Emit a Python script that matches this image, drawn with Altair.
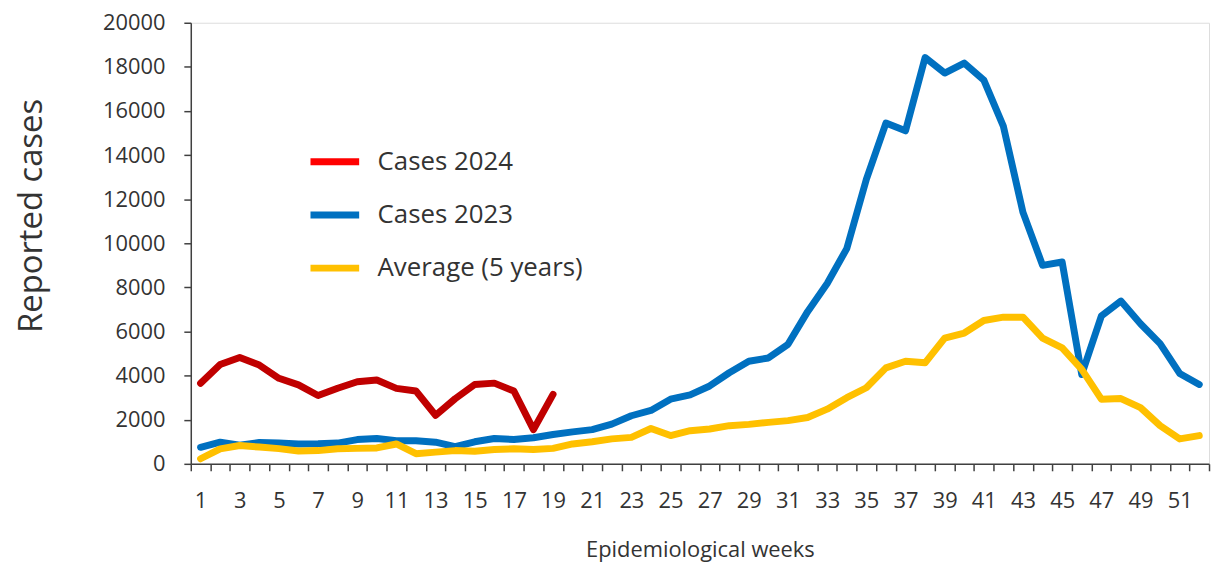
import altair as alt
import pandas as pd

weeks = list(range(1, 53))
cases_2024 = [3650, 4500, 4820, 4480, 3880, 3580, 3100, 3430, 3720, 3800, 3420, 3300,
              2200, 2950, 3600, 3660, 3300, 1550, 3150]
cases_2023 = [750, 980, 840, 970, 940, 900, 910, 940, 1100, 1150, 1050, 1050, 980, 780,
              1000, 1150, 1100, 1180, 1330, 1450, 1550, 1800, 2180, 2420, 2930, 3130,
              3530, 4130, 4650, 4800, 5420, 6900, 8180, 9760, 12900, 15450, 15100,
              18420, 17720, 18170, 17400, 15300, 11400, 9000, 9150, 4050, 6700, 7380,
              6350, 5450, 4100, 3600]
average_5y = [230, 680, 830, 760, 690, 580, 600, 680, 700, 720, 900, 460, 530, 600, 570,
              650, 680, 650, 700, 900, 1000, 1130, 1200, 1600, 1280, 1500, 1580, 1730,
              1790, 1880, 1960, 2100, 2480, 3000, 3450, 4350, 4650, 4580, 5700, 5930,
              6500, 6650, 6650, 5700, 5260, 4280, 2930, 2960, 2550, 1730, 1130, 1280]
series_names = ["Cases 2024", "Cases 2023", "Average (5 years)"]
line_colors = ["#C00000", "#0070C0", "#FFC000"]
legend_colors = ["#FF0000", "#0070C0", "#FFC000"]
y_ticks = list(range(0, 20001, 2000))

rows = []
for name, vals in zip(series_names, [cases_2024, cases_2023, average_5y]):
    for w, v in zip(weeks, vals):
        rows.append({"week": w, "cases": v, "series": name})
df = pd.DataFrame(rows)

W, H = 1025, 444
FONT = "Open Sans"
TXT = "#333333"
step = W / 52

x_enc = alt.X(
    "week:Q",
    scale=alt.Scale(domain=[0.5, 52.5], nice=False, zero=False),
    axis=alt.Axis(
        values=[i + 0.5 for i in range(53)],
        labelExpr="(datum.value % 2 == 0.5 && datum.value < 52) ? '' + (datum.value + 0.5) : ''",
        labelOffset=step / 2,
        labelOverlap=False,
        labelFlush=False,
        labelBound=False,
        labelFont=FONT, labelFontSize=22, labelColor=TXT, labelPadding=20,
        tickSize=7, tickColor="#404040", tickWidth=1.5,
        domainColor="#404040", domainWidth=1.5,
        grid=False,
        title="Epidemiological weeks",
        titleFont=FONT, titleFontSize=22, titleFontWeight="normal", titleColor=TXT,
        titleBaseline="middle", titleY=86,
    ),
)
y_enc = alt.Y(
    "cases:Q",
    scale=alt.Scale(domain=[0, 20000], nice=False),
    axis=alt.Axis(
        values=y_ticks, format="d",
        labelFont=FONT, labelFontSize=22, labelColor=TXT, labelPadding=19,
        tickSize=7, tickColor="#404040", tickWidth=1.5,
        domainColor="#404040", domainWidth=1.5,
        grid=False,
        title="Reported cases",
        titleFont=FONT, titleFontSize=33, titleFontWeight="normal", titleColor=TXT,
        titleAngle=-90, titleAlign="center", titleBaseline="middle",
        titleX=-160, titleY=194,
    ),
)

color_lines = alt.Color("series:N", scale=alt.Scale(domain=series_names, range=line_colors), legend=None)

base = alt.Chart(df)

def series_layer(name):
    return base.transform_filter(alt.datum.series == name).mark_line(
        strokeWidth=7, strokeCap="round", strokeJoin="round"
    ).encode(x=x_enc, y=y_enc, color=color_lines)

legend_layer = base.mark_line(opacity=0, strokeWidth=7).encode(
    x=x_enc, y=y_enc,
    color=alt.Color(
        "series:N",
        scale=alt.Scale(domain=series_names, range=legend_colors),
        sort=series_names,
        legend=alt.Legend(
            title=None, orient="none", legendX=117, legendY=112,
            symbolType="stroke", symbolSize=2401, symbolStrokeWidth=7, symbolOpacity=1,
            labelFont=FONT, labelFontSize=26, labelColor=TXT, labelOffset=15,
            labelLimit=0, rowPadding=11.5, padding=0,
        ),
    ),
)

chart = alt.layer(
    legend_layer,
    series_layer("Cases 2023"),
    series_layer("Average (5 years)"),
    series_layer("Cases 2024"),
).resolve_scale(color="independent").properties(
    width=W, height=H,
    padding={"left": 184, "top": 13, "right": 3, "bottom": 101},
    autosize=alt.AutoSizeParams(type="none"),
).configure_view(stroke=None).configure(background="white")

chart.save("out.html", embed_options={"renderer": "svg", "actions": False})
